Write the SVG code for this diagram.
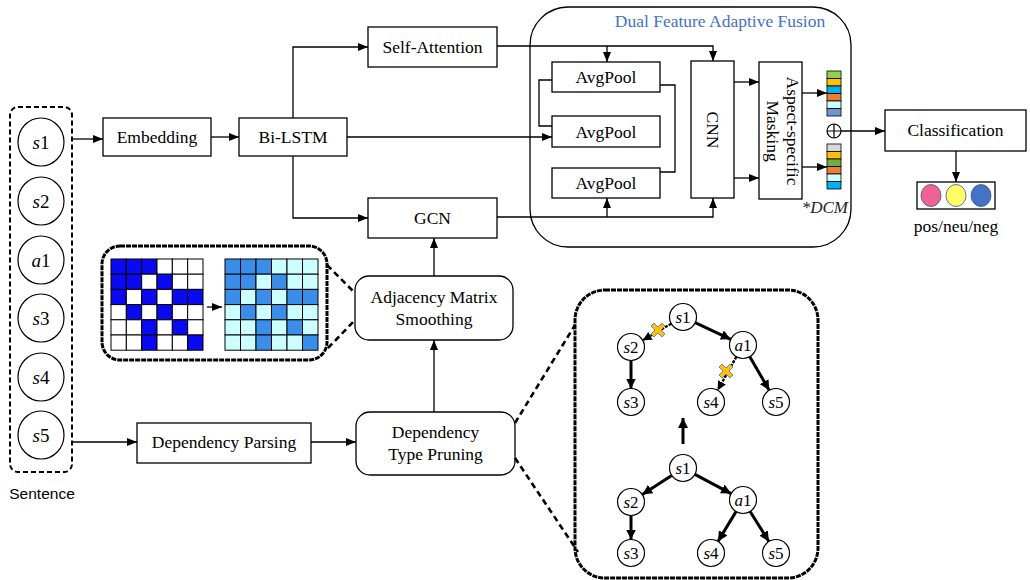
<svg xmlns="http://www.w3.org/2000/svg" width="1030" height="580" viewBox="0 0 1030 580">
<style>
  .box{fill:#fff;stroke:#000;stroke-width:1.3}
  .t{font-family:"Liberation Serif","Times New Roman",serif;font-size:17.5px;fill:#000;text-anchor:middle}
  .nt{font-family:"Liberation Serif","Times New Roman",serif;font-size:19px;fill:#000;text-anchor:middle}
  .tn{font-family:"Liberation Serif","Times New Roman",serif;font-size:17px;fill:#000;text-anchor:middle}
  .c{fill:none;stroke:#000;stroke-width:1.3}
  .ce{fill:#fff;stroke:#000;stroke-width:1.2}
  .dash{fill:none;stroke:#000;stroke-width:2.6;stroke-dasharray:6 4}
  .panel{fill:#fff;stroke:#000;stroke-width:3;stroke-dasharray:5 1}
  .te{fill:none;stroke:#000;stroke-width:3}
  .tp{fill:none;stroke:#000;stroke-width:2.4;stroke-dasharray:3 1.2}
  .db{fill:#0A0AF0;stroke:#000;stroke-width:1}
  .w{fill:#fff;stroke:#000;stroke-width:1}
  .mb{fill:#3A8EEA;stroke:#000;stroke-width:1}
  .lc{fill:#CCFFFF;stroke:#000;stroke-width:1}
  .cell{stroke:#000;stroke-width:0.8}
</style>
<defs>
  <marker id="ar" markerUnits="userSpaceOnUse" markerWidth="10" markerHeight="8" refX="10" refY="4" orient="auto">
    <path d="M0,0 L10,4 L0,8 Z" fill="#000"/>
  </marker>
  <marker id="ta" markerUnits="userSpaceOnUse" markerWidth="10" markerHeight="10" refX="10" refY="5" orient="auto">
    <path d="M0,0 L10,5 L0,10 Z" fill="#000"/>
  </marker>
  <marker id="tps" markerUnits="userSpaceOnUse" markerWidth="9" markerHeight="9" refX="9" refY="4.5" orient="auto">
    <path d="M0,0 L9,4.5 L0,9 Z" fill="#000"/>
  </marker>
  <path id="xmark" d="M-7,-4 L-4,-7 L0,-3 L4,-7 L7,-4 L3,0 L7,4 L4,7 L0,3 L-4,7 L-7,4 L-3,0 Z" fill="#FFC000" stroke="#5B7FC7" stroke-width="0.9"/>
</defs>
<rect width="1030" height="580" fill="#fff"/>

<!-- Sentence column -->
<g id="sentence">
  <rect x="10" y="107" width="62" height="365" rx="8" fill="none" stroke="#000" style="stroke-width:2;stroke-dasharray:5 3"/>
  <ellipse cx="41" cy="142" rx="23" ry="24" class="ce"/>
  <text x="41" y="149" class="nt"><tspan font-style="italic">s</tspan>1</text>
  <ellipse cx="41" cy="201" rx="23" ry="24" class="ce"/>
  <text x="41" y="208" class="nt"><tspan font-style="italic">s</tspan>2</text>
  <ellipse cx="41" cy="260" rx="23" ry="24" class="ce"/>
  <text x="41" y="267" class="nt"><tspan font-style="italic">a</tspan>1</text>
  <ellipse cx="41" cy="318" rx="23" ry="24" class="ce"/>
  <text x="41" y="325" class="nt"><tspan font-style="italic">s</tspan>3</text>
  <ellipse cx="41" cy="377" rx="23" ry="24" class="ce"/>
  <text x="41" y="384" class="nt"><tspan font-style="italic">s</tspan>4</text>
  <ellipse cx="41" cy="435" rx="23" ry="24" class="ce"/>
  <text x="41" y="442" class="nt"><tspan font-style="italic">s</tspan>5</text>
  <text x="42" y="499" font-family="Liberation Sans, Arial, sans-serif" font-size="15.5" text-anchor="middle">Sentence</text>
</g>

<g id="embedding">
  <rect x="103" y="118" width="108" height="38" class="box"/>
  <text x="157" y="143" class="t">Embedding</text>
</g>
<g id="bilstm">
  <rect x="239" y="118" width="108" height="38" class="box"/>
  <text x="293" y="143" class="t">Bi-LSTM</text>
</g>
<g id="selfattention">
  <rect x="368" y="27" width="129" height="40" class="box"/>
  <text x="432.5" y="53" class="t">Self-Attention</text>
</g>
<g id="gcn">
  <rect x="368" y="198" width="129" height="40" class="box"/>
  <text x="432.5" y="224" class="t">GCN</text>
</g>

<!-- DCM -->
<g id="dcm">
  <rect x="530" y="7" width="321" height="240" rx="38" fill="none" stroke="#000" stroke-width="1.3"/>
  <text x="720" y="27" class="t" style="fill:#4472C4">Dual Feature Adaptive Fusion</text>
  <text x="848" y="213" font-family="Liberation Serif, Times New Roman, serif" font-size="17" font-style="italic" text-anchor="end" fill="#222">*DCM</text>
</g>
<g id="avgpool1">
  <rect x="552" y="62" width="108" height="30" class="box"/>
  <text x="606" y="83" class="t">AvgPool</text>
</g>
<g id="avgpool2">
  <rect x="552" y="116" width="108" height="31" class="box"/>
  <text x="606" y="138" class="t">AvgPool</text>
</g>
<g id="avgpool3">
  <rect x="552" y="168" width="108" height="30" class="box"/>
  <text x="606" y="189" class="t">AvgPool</text>
</g>
<g id="cnn">
  <rect x="691" y="61" width="43" height="137" class="box"/>
  <text transform="translate(712.5,130) rotate(90)" x="0" y="6" class="t">CNN</text>
</g>
<g id="masking">
  <rect x="759" y="62" width="43" height="137" class="box"/>
  <text transform="translate(780.5,131) rotate(90)" class="t"><tspan x="0" y="-6">Aspect-specific</tspan><tspan x="0" y="14">Masking</tspan></text>
</g>
<g id="feat1">
  <rect x="827" y="71" width="14" height="7.5" fill="#92D050" class="cell"/>
  <rect x="827" y="78.5" width="14" height="7.5" fill="#FFC000" class="cell"/>
  <rect x="827" y="86" width="14" height="7.5" fill="#00B0F0" class="cell"/>
  <rect x="827" y="93.5" width="14" height="7.5" fill="#ED7D31" class="cell"/>
  <rect x="827" y="101" width="14" height="7.5" fill="#CCFFFF" class="cell"/>
  <rect x="827" y="108.5" width="14" height="7.5" fill="#7096D0" class="cell"/>
</g>
<g id="feat2">
  <rect x="827" y="144" width="14" height="7.5" fill="#D9D9D9" class="cell"/>
  <rect x="827" y="151.5" width="14" height="7.5" fill="#FFC000" class="cell"/>
  <rect x="827" y="159" width="14" height="7.5" fill="#70AD47" class="cell"/>
  <rect x="827" y="166.5" width="14" height="7.5" fill="#ED7D31" class="cell"/>
  <rect x="827" y="174" width="14" height="7.5" fill="#CCFFFF" class="cell"/>
  <rect x="827" y="181.5" width="14" height="7.5" fill="#00B0F0" class="cell"/>
</g>
<g id="oplus">
  <circle cx="834" cy="131" r="7" fill="none" stroke="#000" stroke-width="1.2"/>
  <path d="M827,131 H841 M834,124 V138" stroke="#000" stroke-width="1.2"/>
</g>

<g id="classification">
  <rect x="885" y="110" width="141" height="41" class="box"/>
  <text x="955.5" y="136" class="t">Classification</text>
</g>
<g id="result">
  <rect x="917" y="182" width="78" height="27" class="box"/>
  <ellipse cx="931" cy="195.5" rx="10" ry="11" fill="#F06292" stroke="#2F5597" stroke-width="0.8"/>
  <ellipse cx="956" cy="195.5" rx="10" ry="11" fill="#FFFF66" stroke="#2F5597" stroke-width="0.8"/>
  <ellipse cx="981" cy="195.5" rx="10" ry="11" fill="#4472C4" stroke="#2F5597" stroke-width="0.8"/>
  <text x="956" y="232" class="t">pos/neu/neg</text>
</g>

<!-- Matrix panel -->
<g id="matrixpanel">
  <rect x="102" y="246" width="225" height="114" rx="18" class="panel"/>
  <g id="m1">
    <rect x="111" y="259" width="15.33" height="15.2" class="db"/><rect x="126.33" y="259" width="15.33" height="15.2" class="db"/><rect x="141.67" y="259" width="15.33" height="15.2" class="db"/><rect x="157" y="259" width="15.33" height="15.2" class="w"/><rect x="172.33" y="259" width="15.33" height="15.2" class="w"/><rect x="187.67" y="259" width="15.33" height="15.2" class="w"/>
    <rect x="111" y="274.2" width="15.33" height="15.2" class="db"/><rect x="126.33" y="274.2" width="15.33" height="15.2" class="db"/><rect x="141.67" y="274.2" width="15.33" height="15.2" class="w"/><rect x="157" y="274.2" width="15.33" height="15.2" class="db"/><rect x="172.33" y="274.2" width="15.33" height="15.2" class="w"/><rect x="187.67" y="274.2" width="15.33" height="15.2" class="w"/>
    <rect x="111" y="289.4" width="15.33" height="15.2" class="db"/><rect x="126.33" y="289.4" width="15.33" height="15.2" class="w"/><rect x="141.67" y="289.4" width="15.33" height="15.2" class="db"/><rect x="157" y="289.4" width="15.33" height="15.2" class="w"/><rect x="172.33" y="289.4" width="15.33" height="15.2" class="db"/><rect x="187.67" y="289.4" width="15.33" height="15.2" class="db"/>
    <rect x="111" y="304.6" width="15.33" height="15.2" class="w"/><rect x="126.33" y="304.6" width="15.33" height="15.2" class="db"/><rect x="141.67" y="304.6" width="15.33" height="15.2" class="w"/><rect x="157" y="304.6" width="15.33" height="15.2" class="db"/><rect x="172.33" y="304.6" width="15.33" height="15.2" class="w"/><rect x="187.67" y="304.6" width="15.33" height="15.2" class="w"/>
    <rect x="111" y="319.8" width="15.33" height="15.2" class="w"/><rect x="126.33" y="319.8" width="15.33" height="15.2" class="w"/><rect x="141.67" y="319.8" width="15.33" height="15.2" class="db"/><rect x="157" y="319.8" width="15.33" height="15.2" class="w"/><rect x="172.33" y="319.8" width="15.33" height="15.2" class="db"/><rect x="187.67" y="319.8" width="15.33" height="15.2" class="w"/>
    <rect x="111" y="335" width="15.33" height="15.2" class="w"/><rect x="126.33" y="335" width="15.33" height="15.2" class="w"/><rect x="141.67" y="335" width="15.33" height="15.2" class="db"/><rect x="157" y="335" width="15.33" height="15.2" class="w"/><rect x="172.33" y="335" width="15.33" height="15.2" class="w"/><rect x="187.67" y="335" width="15.33" height="15.2" class="db"/>
  </g>
  <g id="m2">
    <rect x="225" y="259" width="15.5" height="15.2" class="mb"/><rect x="240.5" y="259" width="15.5" height="15.2" class="mb"/><rect x="256" y="259" width="15.5" height="15.2" class="mb"/><rect x="271.5" y="259" width="15.5" height="15.2" class="lc"/><rect x="287" y="259" width="15.5" height="15.2" class="lc"/><rect x="302.5" y="259" width="15.5" height="15.2" class="lc"/>
    <rect x="225" y="274.2" width="15.5" height="15.2" class="mb"/><rect x="240.5" y="274.2" width="15.5" height="15.2" class="mb"/><rect x="256" y="274.2" width="15.5" height="15.2" class="lc"/><rect x="271.5" y="274.2" width="15.5" height="15.2" class="mb"/><rect x="287" y="274.2" width="15.5" height="15.2" class="lc"/><rect x="302.5" y="274.2" width="15.5" height="15.2" class="lc"/>
    <rect x="225" y="289.4" width="15.5" height="15.2" class="mb"/><rect x="240.5" y="289.4" width="15.5" height="15.2" class="lc"/><rect x="256" y="289.4" width="15.5" height="15.2" class="mb"/><rect x="271.5" y="289.4" width="15.5" height="15.2" class="lc"/><rect x="287" y="289.4" width="15.5" height="15.2" class="mb"/><rect x="302.5" y="289.4" width="15.5" height="15.2" class="mb"/>
    <rect x="225" y="304.6" width="15.5" height="15.2" class="lc"/><rect x="240.5" y="304.6" width="15.5" height="15.2" class="mb"/><rect x="256" y="304.6" width="15.5" height="15.2" class="lc"/><rect x="271.5" y="304.6" width="15.5" height="15.2" class="mb"/><rect x="287" y="304.6" width="15.5" height="15.2" class="lc"/><rect x="302.5" y="304.6" width="15.5" height="15.2" class="lc"/>
    <rect x="225" y="319.8" width="15.5" height="15.2" class="lc"/><rect x="240.5" y="319.8" width="15.5" height="15.2" class="lc"/><rect x="256" y="319.8" width="15.5" height="15.2" class="mb"/><rect x="271.5" y="319.8" width="15.5" height="15.2" class="lc"/><rect x="287" y="319.8" width="15.5" height="15.2" class="mb"/><rect x="302.5" y="319.8" width="15.5" height="15.2" class="lc"/>
    <rect x="225" y="335" width="15.5" height="15.2" class="lc"/><rect x="240.5" y="335" width="15.5" height="15.2" class="lc"/><rect x="256" y="335" width="15.5" height="15.2" class="mb"/><rect x="271.5" y="335" width="15.5" height="15.2" class="lc"/><rect x="287" y="335" width="15.5" height="15.2" class="lc"/><rect x="302.5" y="335" width="15.5" height="15.2" class="mb"/>
  </g>
  <path d="M207,307 H222" class="c" marker-end="url(#ar)"/>
</g>

<g id="adjacency">
  <rect x="355" y="276" width="158" height="64" rx="14" class="box"/>
  <text class="t"><tspan x="434" y="303">Adjacency Matrix</tspan><tspan x="434" y="325">Smoothing</tspan></text>
</g>
<g id="pruning">
  <rect x="356" y="412" width="159" height="63" rx="14" class="box"/>
  <text class="t"><tspan x="435.5" y="438">Dependency</tspan><tspan x="435.5" y="460">Type Pruning</tspan></text>
</g>
<g id="parsing">
  <rect x="137" y="423" width="174" height="40" class="box"/>
  <text x="224" y="448" class="t">Dependency Parsing</text>
</g>

<!-- Tree panel -->
<g id="treepanel">
  <rect x="575" y="290" width="243" height="288" rx="30" class="panel"/>
  <g id="tree-top">
    <circle cx="683" cy="317" r="13.5" class="ce"/><text x="683" y="323" class="tn"><tspan font-style="italic">s</tspan>1</text>
    <circle cx="631" cy="347" r="13.5" class="ce"/><text x="631" y="353" class="tn"><tspan font-style="italic">s</tspan>2</text>
    <circle cx="743" cy="345" r="13.5" class="ce"/><text x="743" y="351" class="tn"><tspan font-style="italic">a</tspan>1</text>
    <circle cx="631" cy="402" r="13.5" class="ce"/><text x="631" y="408" class="tn"><tspan font-style="italic">s</tspan>3</text>
    <circle cx="711" cy="402" r="13.5" class="ce"/><text x="711" y="408" class="tn"><tspan font-style="italic">s</tspan>4</text>
    <circle cx="776" cy="402" r="13.5" class="ce"/><text x="776" y="408" class="tn"><tspan font-style="italic">s</tspan>5</text>
  </g>
  <g id="tree-bottom">
    <circle cx="683" cy="468" r="13.5" class="ce"/><text x="683" y="474" class="tn"><tspan font-style="italic">s</tspan>1</text>
    <circle cx="631" cy="502" r="13.5" class="ce"/><text x="631" y="508" class="tn"><tspan font-style="italic">s</tspan>2</text>
    <circle cx="743" cy="500" r="13.5" class="ce"/><text x="743" y="506" class="tn"><tspan font-style="italic">a</tspan>1</text>
    <circle cx="631" cy="553" r="13.5" class="ce"/><text x="631" y="559" class="tn"><tspan font-style="italic">s</tspan>3</text>
    <circle cx="711" cy="553" r="13.5" class="ce"/><text x="711" y="559" class="tn"><tspan font-style="italic">s</tspan>4</text>
    <circle cx="776" cy="553" r="13.5" class="ce"/><text x="776" y="559" class="tn"><tspan font-style="italic">s</tspan>5</text>
  </g>
</g>

<!-- Connectors -->
<g id="connectors">
  <path d="M72,139 H103" class="c" marker-end="url(#ar)"/>
  <path d="M211,137 H239" class="c" marker-end="url(#ar)"/>
  <path d="M293,118 V47 H368" class="c" marker-end="url(#ar)"/>
  <path d="M293,156 V218 H368" class="c" marker-end="url(#ar)"/>
  <path d="M347,137 H552" class="c" marker-end="url(#ar)"/>
  <path d="M497,46 H713 V61" class="c" marker-end="url(#ar)"/>
  <path d="M607,46 V62" class="c" marker-end="url(#ar)"/>
  <path d="M497,217 H713 V198" class="c" marker-end="url(#ar)"/>
  <path d="M607,217 V198" class="c" marker-end="url(#ar)"/>
  <path d="M552,80 H539 V126 H552" class="c"/>
  <path d="M660,85 H675 V172 H660" class="c"/>
  <path d="M734,82 H759" class="c" marker-end="url(#ar)"/>
  <path d="M734,178 H759" class="c" marker-end="url(#ar)"/>
  <path d="M802,93 H827" class="c" marker-end="url(#ar)"/>
  <path d="M802,167 H827" class="c" marker-end="url(#ar)"/>
  <path d="M841,131 H885" class="c" marker-end="url(#ar)"/>
  <path d="M956,151 V182" class="c" marker-end="url(#ar)"/>
  <path d="M72,442 H137" class="c" marker-end="url(#ar)"/>
  <path d="M311,442 H356" class="c" marker-end="url(#ar)"/>
  <path d="M434,412 V340" class="c" marker-end="url(#ar)"/>
  <path d="M434,276 V238" class="c" marker-end="url(#ar)"/>
  <path d="M327,265 L355,293" class="dash"/>
  <path d="M328,348 L355,320" class="dash"/>
  <path d="M515,423 L575,325" class="dash"/>
  <path d="M515,458 L578,552" class="dash"/>
  <!-- tree edges top -->
  <path d="M695.2,322.7 L730.8,339.3" class="te" marker-end="url(#ta)"/>
  <path d="M631,360.5 L631,388.5" class="te" marker-end="url(#ta)"/>
  <path d="M749.8,356.7 L769.2,390.3" class="te" marker-end="url(#ta)"/>
  <path d="M671.3,323.7 L642.7,340.3" class="tp" marker-end="url(#tps)"/>
  <path d="M736.4,356.8 L717.6,390.2" class="tp" marker-end="url(#tps)"/>
  <use href="#xmark" x="658" y="330"/>
  <use href="#xmark" x="726" y="371"/>
  <!-- middle arrow -->
  <path d="M683,444 V418" class="te" marker-end="url(#ta)"/>
  <!-- tree edges bottom -->
  <path d="M671.7,475.4 L642.3,494.6" class="te" marker-end="url(#ta)"/>
  <path d="M694.9,474.4 L731.1,493.6" class="te" marker-end="url(#ta)"/>
  <path d="M631,515.5 L631,539.5" class="te" marker-end="url(#ta)"/>
  <path d="M736,511.6 L718,541.4" class="te" marker-end="url(#ta)"/>
  <path d="M750.1,511.5 L768.9,541.5" class="te" marker-end="url(#ta)"/>
</g>
</svg>
